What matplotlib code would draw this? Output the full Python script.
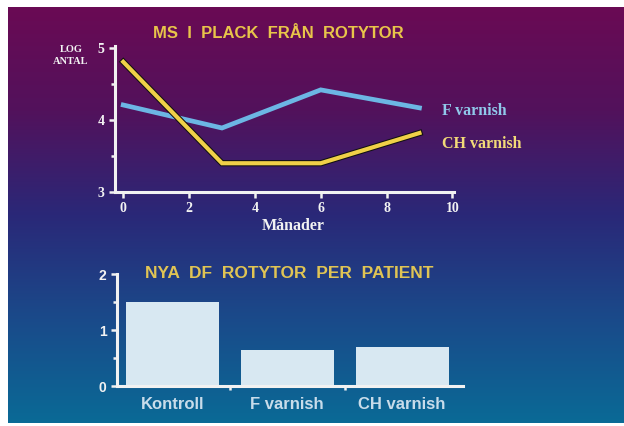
import numpy as np
import matplotlib
matplotlib.use('Agg')
import matplotlib.pyplot as plt
import matplotlib.patheffects as pe
from matplotlib.colors import LinearSegmentedColormap

# line chart data (months vs log count)
months = [0, 3, 6, 9]
f_varnish = [4.21, 3.89, 4.42, 4.17]
ch_varnish = [4.81, 3.40, 3.40, 3.82]

# bar chart data
groups = ['Kontroll', 'F varnish', 'CH varnish']
new_df = [1.50, 0.65, 0.70]

W, H = 624, 426
fig = plt.figure(figsize=(W / 100, H / 100), dpi=100, facecolor='white')

# slide background gradient (magenta top -> teal bottom)
bg = fig.add_axes([8 / W, 3 / H, 1 - 8 / W + 0.01, 1 - 10 / H])
cmap = LinearSegmentedColormap.from_list('slide', [
    (0.0, '#6a0a54'), (0.25, '#52125c'), (0.5, '#2a2878'),
    (0.75, '#1a4a8a'), (1.0, '#0a6a96')])
grad = np.linspace(0, 1, 256).reshape(-1, 1)
bg.imshow(grad, cmap=cmap, aspect='auto', extent=[0, 1, 0, 1], origin='upper')
bg.set_xlim(0, 1)
bg.set_ylim(0, 1)
bg.axis('off')

white = '#f2f2f2'
serif = ['Liberation Serif', 'DejaVu Serif']
sans = ['Liberation Sans', 'DejaVu Sans']

def style_axes(ax):
    ax.patch.set_alpha(0)
    for s in ['top', 'right']:
        ax.spines[s].set_visible(False)
    for s in ['left', 'bottom']:
        ax.spines[s].set_color(white)
        ax.spines[s].set_linewidth(2.2)
    ax.tick_params(colors=white, width=1.8, length=4)
    ax.tick_params(which='minor', colors=white, width=1.8, length=3)

# ---- top: line chart
ax1 = fig.add_axes([115 / W, 1 - 192 / H, (454 - 115) / W, (192 - 46) / H])
style_axes(ax1)
ax1.plot(months, f_varnish, color='#6cb6e4', lw=3.4, solid_joinstyle='miter')
ax1.plot(months, ch_varnish, color='#f0d048', lw=3.0, solid_joinstyle='miter',
         path_effects=[pe.Stroke(linewidth=4.5, foreground='#111111'), pe.Normal()])
ax1.set_xlim(-0.25, 10.05)
ax1.set_ylim(3, 5.03)
ax1.set_xticks([0, 2, 4, 6, 8, 10])
ax1.set_yticks([3, 4, 5])
ax1.set_yticks([3.5, 4.5], minor=True)
ax1.tick_params(axis='x', pad=3)
for lab in ax1.get_xticklabels() + ax1.get_yticklabels():
    lab.set_family(serif)
    lab.set_fontweight('bold')
    lab.set_fontsize(10)
ax1.set_xlabel('Månader', color=white, family=serif, fontweight='bold',
               fontsize=11.5, va='center')
ax1.xaxis.set_label_coords(0.525, -0.235)
ax1.text(9.7, 4.13, 'F varnish', color='#90c8ea', family=serif,
         fontweight='bold', fontsize=11.5, va='center')
ax1.text(9.7, 3.67, 'CH varnish', color='#f2da78', family=serif,
         fontweight='bold', fontsize=11.5, va='center')
fig.text(71 / W, 1 - 49 / H, 'LOG', color=white, family=serif,
         fontweight='bold', fontsize=7.5, ha='center', va='center')
fig.text(71 / W, 1 - 62 / H, 'ANTAL', color=white, family=serif,
         fontweight='bold', fontsize=7.5, ha='center', va='center')
fig.text(278 / W, 1 - 33 / H, 'MS  I  PLACK  FRÅN  ROTYTOR', color='#e8c44a',
         family=sans, fontweight='bold', fontsize=12, ha='center', va='center')

# ---- bottom: bar chart
ax2 = fig.add_axes([117 / W, 1 - 386 / H, (463 - 117) / W, (386 - 274) / H])
style_axes(ax2)
x = np.arange(len(groups))
ax2.bar(x, new_df, width=0.81, color='#d8e8f2')
ax2.set_xlim(-0.48, 2.53)
ax2.set_ylim(0, 2.0)
ax2.set_yticks([0, 1, 2])
ax2.set_yticks([0.5, 1.5], minor=True)
ax2.set_xticks(x)
ax2.set_xticks([0.5, 1.5], minor=True)
ax2.set_xticklabels(groups)
ax2.tick_params(axis='x', which='major', length=0, pad=8)
for lab in ax2.get_xticklabels():
    lab.set_family(sans)
    lab.set_fontweight('bold')
    lab.set_fontsize(12)
    lab.set_color('#c8dcea')
for lab in ax2.get_yticklabels():
    lab.set_family(sans)
    lab.set_fontweight('bold')
    lab.set_fontsize(10)
fig.text(289 / W, 1 - 273 / H, 'NYA  DF  ROTYTOR  PER  PATIENT', color='#e0c454',
         family=sans, fontweight='bold', fontsize=12.5, ha='center', va='center')

fig.savefig('out.png', dpi=100, facecolor='white')
